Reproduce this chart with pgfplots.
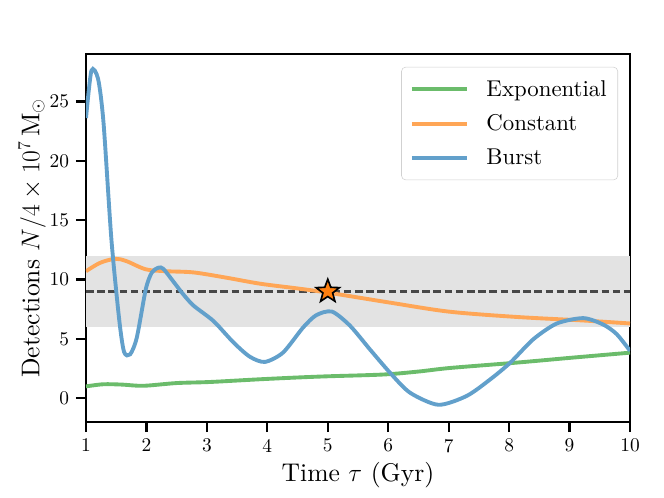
\RequirePackage{fix-cm}
\documentclass[border=0pt]{standalone}
\usepackage{fontspec}
\setmainfont{lmroman10-regular.otf}[ItalicFont=lmroman10-italic.otf, BoldFont=lmroman10-bold.otf]
\usepackage{pgfplots}
\pgfplotsset{compat=1.18}
\definecolor{cblue}{RGB}{98,160,203}
\definecolor{corange}{RGB}{255,166,86}
\definecolor{cgreen}{RGB}{107,188,107}
\definecolor{starorange}{RGB}{255,127,14}
\definecolor{bandgray}{RGB}{227,227,227}
\pgfdeclareplotmark{fivestar}{%
  \pgfpathmoveto{\pgfpointpolar{90}{\pgfplotmarksize}}%
  \pgfpathlineto{\pgfpointpolar{126}{0.42\pgfplotmarksize}}%
  \pgfpathlineto{\pgfpointpolar{162}{\pgfplotmarksize}}%
  \pgfpathlineto{\pgfpointpolar{198}{0.42\pgfplotmarksize}}%
  \pgfpathlineto{\pgfpointpolar{234}{\pgfplotmarksize}}%
  \pgfpathlineto{\pgfpointpolar{270}{0.42\pgfplotmarksize}}%
  \pgfpathlineto{\pgfpointpolar{306}{\pgfplotmarksize}}%
  \pgfpathlineto{\pgfpointpolar{342}{0.42\pgfplotmarksize}}%
  \pgfpathlineto{\pgfpointpolar{18}{\pgfplotmarksize}}%
  \pgfpathlineto{\pgfpointpolar{54}{0.42\pgfplotmarksize}}%
  \pgfpathclose
  \pgfusepathqfillstroke
}
\newcommand{\tickfont}{\fontsize{14}{16}\selectfont}
\begin{document}
\begin{tikzpicture}
\useasboundingbox (-0.86in,-0.76in) rectangle (5.78in,4.22in);
\begin{axis}[
  at={(0,0)}, anchor=south west,
  scale only axis,
  width=5.44in, height=3.68in,
  xmin=1, xmax=10, ymin=-2, ymax=29,
  xtick={1,2,...,10},
  ytick={0,5,10,15,20,25},
  xticklabels={{\tickfont 1},{\tickfont 2},{\tickfont 3},{\tickfont 4},{\tickfont 5},{\tickfont 6},{\tickfont 7},{\tickfont 8},{\tickfont 9},{\tickfont 10}},
  yticklabels={{\tickfont 0},{\tickfont 5},{\tickfont 10},{\tickfont 15},{\tickfont 20},{\tickfont 25}},
  xticklabel style={yshift=-1.5pt},
  yticklabel style={xshift=-1.5pt},
  tick align=outside,
  tick pos=left,
  major tick length=0.1in,
  every tick/.style={black, line width=1.6pt},
  axis line style={line width=0.9pt},
  label style={font=\fontsize{18.5}{22}\selectfont},
  xlabel={Time $\tau$ (Gyr)},
  ylabel={Detections $N/4\times10^7\,\mathrm{M}_\odot$},
  xlabel style={yshift=0pt},
  ylabel style={yshift=-4pt},
  legend style={at={(0.978,0.965)}, anchor=north east,
    font=\fontsize{16.5}{19}\selectfont,
    draw=black!18, rounded corners=3pt, fill=white,
    inner xsep=6pt, inner ysep=7.5pt, row sep=7.8pt},
  legend cell align=left,
  legend image code/.code={\draw[#1, line width=2.8pt] (0in,0in) -- (0.55in,0in); \path (0.70in,0in);},
]
\addplot[draw=none, fill=bandgray, forget plot] coordinates {(1,6) (10,6) (10,12) (1,12)} -- cycle;
\addplot[dashed, dash pattern=on 5.5pt off 2.6pt, line width=1.6pt, color=black!72, forget plot] coordinates {(1,9) (10,9)};

\addplot[cgreen, line width=2.8pt, smooth] coordinates {
(1.00,1.0) (1.29,1.18) (1.6,1.15) (1.95,1.05) (2.5,1.28) (3.05,1.37) (3.88,1.6)
(4.5,1.75) (5.0,1.85) (5.92,2.0) (6.5,2.25) (7.02,2.55) (8.12,3.0) (9.0,3.4) (10,3.84)};
\addlegendentry{Exponential}

\addplot[corange, line width=2.8pt, smooth] coordinates {
(1.00,10.7) (1.23,11.4) (1.48,11.75) (1.67,11.55) (1.99,10.86) (2.33,10.7) (2.78,10.6)
(3.33,10.15) (3.88,9.65) (4.5,9.25) (5.0,8.9) (6.0,8.08) (7.0,7.3) (8.12,6.85) (9.23,6.55) (10,6.3)};
\addlegendentry{Constant}

\addplot[cblue, line width=2.8pt, smooth, tension=0.45] coordinates {
(1.00,23.6) (1.09,27.6) (1.20,26.9) (1.29,23.2) (1.42,13.4) (1.55,6.6) (1.63,3.9)
(1.73,3.7) (1.84,5.1) (1.99,9.2) (2.09,10.6) (2.20,11.0) (2.28,10.9) (2.45,9.8)
(2.61,8.75) (2.78,7.8) (3.11,6.5) (3.44,4.7) (3.71,3.5) (3.96,3.06) (4.26,3.85)
(4.59,5.95) (4.81,7.0) (5.07,7.3) (5.37,6.1) (5.70,4.1) (6.03,2.15) (6.36,0.47)
(6.83,-0.55) (7.30,0.2) (7.69,1.6) (8.02,3.0) (8.40,4.97) (8.79,6.3) (9.23,6.75)
(9.56,6.2) (9.78,5.4) (10.0,4.0)};
\addlegendentry{Burst}

\addplot[only marks, mark=fivestar, mark size=8.8pt, forget plot,
  mark options={fill=starorange, draw=black, line width=1.2pt, line join=miter}] coordinates {(5,9)};
\end{axis}
\end{tikzpicture}
\end{document}
